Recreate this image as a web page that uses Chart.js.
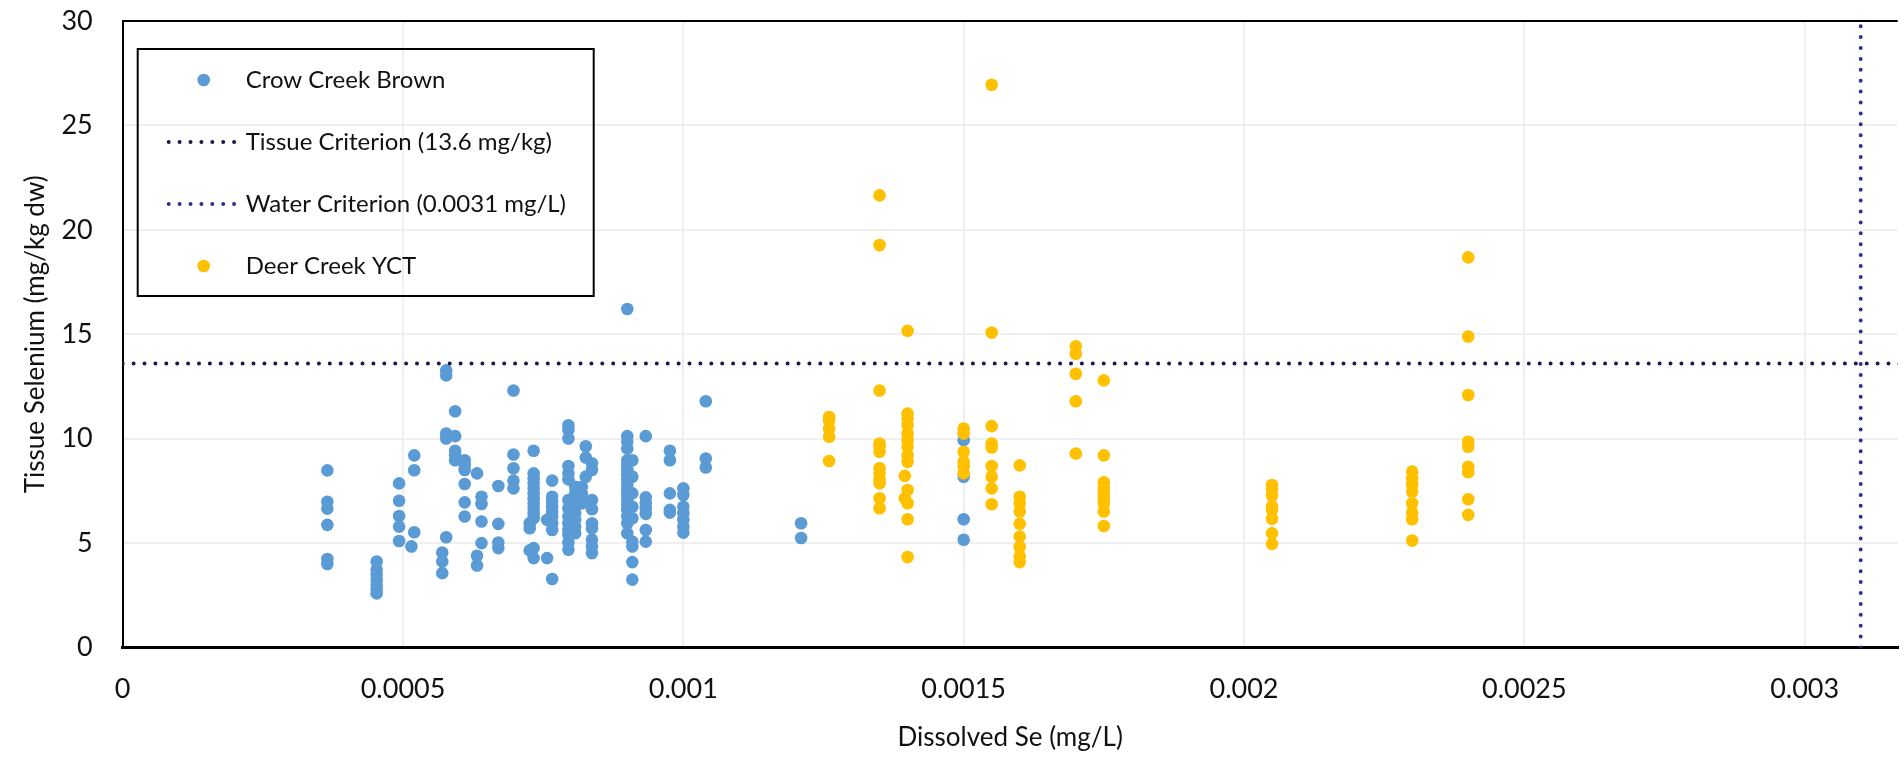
<!DOCTYPE html>
<html>
<head>
<meta charset="utf-8">
<title>Tissue Selenium vs Dissolved Se</title>
<script src="https://cdn.jsdelivr.net/npm/chart.js@4.4.1/dist/chart.umd.min.js"></script>
<style>
  html, body { margin: 0; padding: 0; background: #fff; }
  #wrap { width: 1904px; height: 760px; }
</style>
</head>
<body>
<div id="wrap"><canvas id="seChart" width="1904" height="760"></canvas></div>
<script>
// dissolved Se (mg/L) of each sample group, and the fish tissue Se (mg/kg dw) found at it
var crowConc = [0.000365, 0.000453, 0.000493, 0.00052, 0.000515, 0.000577, 0.00057, 0.000593,
    0.00061, 0.000632, 0.00064, 0.00067, 0.000697, 0.000733, 0.000726, 0.000757, 0.000766,
    0.000795, 0.000826, 0.000807, 0.000819, 0.000837, 0.0009, 0.000909, 0.000933, 0.000976,
    0.001, 0.00104, 0.00121, 0.0015];
var crowTissue = [
    [8.48, 6.98, 6.65, 5.87, 4.24, 4.0],
    [4.12, 3.73, 3.49, 3.25, 3.01, 2.78, 2.59],
    [7.86, 7.03, 6.3, 5.79, 5.1],
    [9.2, 8.49, 5.52],
    [4.84],
    [13.27, 13.03, 10.25, 10.01, 5.28],
    [4.55, 4.12, 3.56],
    [11.31, 10.12, 9.42, 9.21, 8.97],
    [8.97, 8.74, 8.5, 7.83, 6.95, 6.27],
    [8.34, 4.39, 3.93],
    [7.22, 6.87, 6.03, 5.0],
    [7.73, 5.92, 5.03, 4.76],
    [12.31, 9.24, 8.58, 7.99, 7.62],
    [9.42, 8.34, 8.1, 7.86, 7.62, 7.38, 7.14, 6.9, 6.66, 6.43, 6.19, 4.76, 4.28],
    [5.95, 5.71, 4.65],
    [6.11, 4.28],
    [7.99, 7.22, 6.98, 6.74, 6.5, 6.27, 5.95, 5.63, 3.28],
    [10.64, 10.41, 10.01, 8.69, 8.34, 8.05, 7.06, 6.67, 6.27, 5.95, 5.63, 5.39, 5.03, 4.68],
    [9.64, 9.1, 8.18],
    [7.7, 7.38, 7.06, 6.75, 6.43, 6.11, 5.79, 5.47],
    [7.7, 7.38, 6.9],
    [8.82, 8.5, 7.06, 6.62, 5.95, 5.71, 5.16, 4.84, 4.52],
    [16.21, 10.12, 9.85, 9.53, 8.97, 8.74, 8.5, 8.26, 8.02, 7.78, 7.54, 7.3, 7.06, 6.83, 6.59, 6.27, 5.95, 5.47],
    [8.97, 8.18, 7.38, 6.74, 6.19, 5.07, 4.84, 4.09, 3.25],
    [10.12, 7.19, 6.91, 6.67, 6.4, 5.63, 5.07],
    [9.42, 8.97, 7.38, 6.59, 6.46],
    [7.62, 7.3, 6.74, 6.43, 6.11, 5.79, 5.5],
    [11.79, 9.05, 8.62],
    [5.95, 5.24],
    [9.93, 8.18, 6.14, 5.16]
];

var deerConc = [0.00126, 0.00135, 0.0014, 0.001395, 0.0015, 0.00155, 0.0016, 0.0017,
    0.00175, 0.00205, 0.0023, 0.0024];
var deerTissue = [
    [11.04, 10.88, 10.49, 10.09, 8.93],
    [21.65, 19.27, 12.31, 9.77, 9.61, 9.37, 8.58, 8.34, 8.02, 7.86, 7.15, 6.67],
    [15.16, 11.2, 10.96, 10.64, 10.25, 9.93, 9.61, 9.21, 8.89, 7.54, 6.91, 6.14, 4.33],
    [8.22, 7.15],
    [10.49, 10.25, 9.37, 8.89, 8.65, 8.34],
    [26.95, 15.08, 10.6, 9.77, 9.58, 8.69, 8.18, 7.62, 6.86],
    [8.72, 7.22, 6.91, 6.51, 5.92, 5.31, 4.81, 4.36, 4.09],
    [14.42, 14.07, 13.11, 11.79, 9.29],
    [12.79, 9.2, 7.91, 7.62, 7.38, 7.14, 6.91, 6.51, 5.82],
    [7.78, 7.54, 7.26, 6.75, 6.59, 6.16, 5.47, 4.96],
    [8.42, 8.1, 7.78, 7.46, 6.91, 6.46, 6.14, 5.12],
    [18.68, 14.89, 12.09, 9.85, 9.61, 8.65, 8.39, 7.1, 6.35]
];

// criterion lines
var tissueCritX = [0, 0.0035];
var tissueCritY = [13.6, 13.6];
var waterCritX = [0.0031, 0.0031];
var waterCritY = [0, 30];

var xTicks = [0, 0.0005, 0.001, 0.0015, 0.002, 0.0025, 0.003];
var yTicks = [0, 5, 10, 15, 20, 25, 30];

function toPoints(conc, tissue) {
    var pts = [];
    conc.forEach(function(c, i) {
        tissue[i].forEach(function(t) { pts.push({ x: c, y: t }); });
    });
    return pts;
}
function linePoints(xs, ys) {
    return xs.map(function(x, i) { return { x: x, y: ys[i] }; });
}

var FONT = "Lato, 'Open Sans', sans-serif";
var TEXT = '#111111';

// boxed legend sitting inside the plot, top left
var boxLegend = {
    id: 'boxLegend',
    afterDraw: function(chart) {
        var ctx = chart.ctx, a = chart.chartArea;
        var x0 = a.left + 15, y0 = a.top + 28, w = 456, h = 247;
        ctx.save();
        ctx.strokeStyle = '#000';
        ctx.lineWidth = 2;
        ctx.strokeRect(x0, y0, w, h);
        chart.data.datasets.forEach(function(ds, i) {
            var cy = y0 + 31 + i * 62;
            if (ds.showLine) {
                ctx.beginPath();
                ctx.strokeStyle = ds.borderColor;
                ctx.lineWidth = ds.borderWidth;
                ctx.lineCap = 'round';
                ctx.setLineDash(ds.borderDash);
                ctx.moveTo(x0 + 31, cy);
                ctx.lineTo(x0 + 101, cy);
                ctx.stroke();
                ctx.setLineDash([]);
            } else {
                ctx.beginPath();
                ctx.fillStyle = ds.backgroundColor;
                ctx.arc(x0 + 66, cy, 6.3, 0, Math.PI * 2);
                ctx.fill();
            }
            ctx.fillStyle = TEXT;
            ctx.font = '24px ' + FONT;
            ctx.textBaseline = 'middle';
            ctx.textAlign = 'left';
            ctx.fillText(ds.label, x0 + 108, cy);
        });
        ctx.restore();
    }
};

Chart.defaults.font.family = FONT;
Chart.defaults.color = TEXT;

var ctx = document.getElementById('seChart').getContext('2d');
var seChart = new Chart(ctx, {
    type: 'scatter',
    data: {
        datasets: [{
            label: 'Crow Creek Brown',
            data: toPoints(crowConc, crowTissue),
            backgroundColor: '#5B9BD5',
            pointRadius: 6.3,
            pointBorderWidth: 0,
            order: 4
        }, {
            label: 'Tissue Criterion (13.6 mg/kg)',
            data: linePoints(tissueCritX, tissueCritY),
            showLine: true,
            borderColor: '#1B1747',
            borderWidth: 4,
            borderDash: [0, 10.9],
            borderCapStyle: 'round',
            pointRadius: 0,
            order: 2
        }, {
            label: 'Water Criterion (0.0031 mg/L)',
            data: linePoints(waterCritX, waterCritY),
            showLine: true,
            borderColor: '#2E3192',
            borderWidth: 4,
            borderDash: [0, 10.9],
            borderCapStyle: 'round',
            pointRadius: 0,
            order: 1
        }, {
            label: 'Deer Creek YCT',
            data: toPoints(deerConc, deerTissue),
            backgroundColor: '#FFC000',
            pointRadius: 6.3,
            pointBorderWidth: 0,
            order: 3
        }]
    },
    options: {
        responsive: false,
        animation: false,
        events: [],
        layout: { padding: { top: 21, left: 0, right: 0, bottom: 0 } },
        scales: {
            x: {
                type: 'linear',
                min: 0,
                max: 0.003166,
                afterBuildTicks: function(scale) {
                    scale.ticks = xTicks.map(function(v) { return { value: v }; });
                },
                afterFit: function(scale) {
                    scale.height = 112.5;
                    scale.paddingLeft = 0;
                    scale.paddingRight = 0;
                },
                grid: { color: '#EFEFEF', lineWidth: 2, drawTicks: false },
                border: { color: '#000', width: 3 },
                ticks: {
                    padding: 26,
                    font: { size: 27 },
                    color: TEXT,
                    maxRotation: 0,
                    callback: function(v) { return String(v); }
                },
                title: {
                    display: true,
                    text: 'Dissolved Se (mg/L)',
                    font: { size: 26 },
                    color: TEXT,
                    padding: 7
                }
            },
            y: {
                min: 0,
                max: 30,
                afterBuildTicks: function(scale) {
                    scale.ticks = yTicks.map(function(v) { return { value: v }; });
                },
                afterFit: function(scale) {
                    scale.width = 122.7;
                    scale.paddingTop = 0;
                    scale.paddingBottom = 0;
                },
                grid: {
                    color: function(c) { return c.tick && c.tick.value === 30 ? '#000' : '#EFEFEF'; },
                    lineWidth: 2,
                    drawTicks: false
                },
                border: { color: '#000', width: 2 },
                ticks: { padding: 30, font: { size: 27 }, color: TEXT },
                title: {
                    display: true,
                    text: 'Tissue Selenium (mg/kg dw)',
                    font: { size: 26 },
                    color: TEXT,
                    padding: 20
                }
            }
        },
        plugins: {
            legend: { display: false },
            tooltip: { enabled: false }
        }
    },
    plugins: [boxLegend]
});
</script>
</body>
</html>
